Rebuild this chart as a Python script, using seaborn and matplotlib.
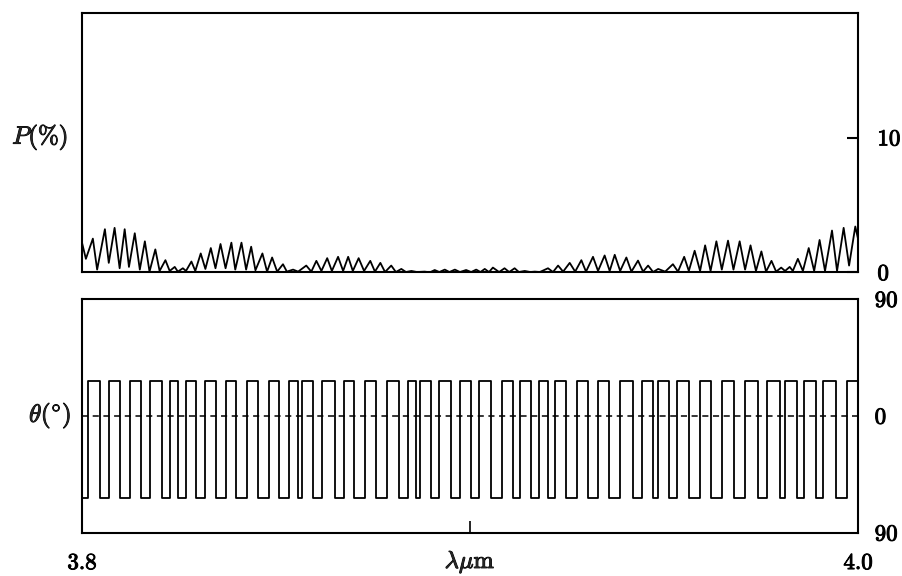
import numpy as np
import pandas as pd
import matplotlib
matplotlib.use("Agg")
import matplotlib.pyplot as plt
import matplotlib.patheffects as pe
import seaborn as sns

# ---------------- data ----------------
# Degree of polarisation P(%) : vertices (peaks and troughs) of the trace
lam_P = [3.8000, 3.8010, 3.8028, 3.8039, 3.8059, 3.8069, 3.8084, 3.8097, 3.8110, 3.8121,
         3.8136, 3.8149, 3.8162, 3.8174, 3.8189, 3.8200, 3.8215, 3.8226, 3.8239, 3.8247,
         3.8260, 3.8268, 3.8282, 3.8292, 3.8306, 3.8318, 3.8332, 3.8344, 3.8357, 3.8370,
         3.8385, 3.8395, 3.8411, 3.8423, 3.8436, 3.8447, 3.8465, 3.8477, 3.8490, 3.8503,
         3.8518, 3.8528, 3.8544, 3.8557, 3.8578, 3.8591, 3.8604, 3.8617, 3.8632, 3.8644,
         3.8660, 3.8673, 3.8686, 3.8698, 3.8713, 3.8727, 3.8743, 3.8755, 3.8769, 3.8781,
         3.8797, 3.8809, 3.8823, 3.8835, 3.8849, 3.8863, 3.8883, 3.8897, 3.8909, 3.8921,
         3.8935, 3.8947, 3.8961, 3.8974, 3.8990, 3.9003, 3.9016, 3.9027, 3.9038, 3.9049,
         3.9059, 3.9075, 3.9089, 3.9101, 3.9115, 3.9126, 3.9141, 3.9155, 3.9167, 3.9180,
         3.9201, 3.9214, 3.9227, 3.9240, 3.9257, 3.9271, 3.9287, 3.9299, 3.9317, 3.9330,
         3.9347, 3.9360, 3.9373, 3.9387, 3.9403, 3.9416, 3.9433, 3.9446, 3.9459, 3.9472,
         3.9485, 3.9503, 3.9523, 3.9536, 3.9552, 3.9564, 3.9579, 3.9593, 3.9606, 3.9620,
         3.9635, 3.9649, 3.9665, 3.9679, 3.9695, 3.9709, 3.9723, 3.9737, 3.9751, 3.9763,
         3.9777, 3.9789, 3.9802, 3.9812, 3.9824, 3.9832, 3.9845, 3.9858, 3.9873, 3.9887,
         3.9901, 3.9915, 3.9933, 3.9946, 3.9963, 3.9977, 3.9993, 4.0000]
P_pct = [2.2, 1.0, 2.5, 0.2, 3.2, 0.7, 3.3, 0.3, 3.2, 0.4,
         2.9, 0.2, 2.3, 0.05, 1.7, 0.1, 0.9, 0.1, 0.4, 0.05,
         0.3, 0.1, 0.8, 0.1, 1.4, 0.25, 1.8, 0.3, 2.1, 0.3,
         2.2, 0.2, 2.2, 0.2, 1.9, 0.15, 1.4, 0.05, 1.1, 0.05,
         0.6, 0.05, 0.2, 0.05, 0.5, 0.05, 0.85, 0.1, 1.05, 0.1,
         1.15, 0.1, 1.15, 0.1, 1.05, 0.1, 0.85, 0.05, 0.7, 0.02,
         0.5, 0.02, 0.25, 0.02, 0.1, 0.02, 0.05, 0.0, 0.17, 0.02,
         0.2, 0.02, 0.2, 0.02, 0.17, 0.02, 0.2, 0.02, 0.25, 0.02,
         0.35, 0.02, 0.3, 0.02, 0.3, 0.02, 0.1, 0.02, 0.05, 0.02,
         0.3, 0.02, 0.5, 0.05, 0.7, 0.05, 0.9, 0.05, 1.15, 0.1,
         1.25, 0.1, 1.3, 0.1, 1.1, 0.05, 0.87, 0.05, 0.5, 0.02,
         0.25, 0.05, 0.6, 0.05, 1.15, 0.1, 1.6, 0.1, 2.0, 0.1,
         2.3, 0.2, 2.35, 0.2, 2.3, 0.2, 2.0, 0.1, 1.55, 0.05,
         0.85, 0.05, 0.35, 0.1, 0.4, 0.1, 1.0, 0.1, 1.8, 0.1,
         2.4, 0.1, 3.1, 0.1, 3.3, 0.5, 3.4, 2.5]

# Polarisation angle theta(deg): square wave switching between two levels
theta_high = 27.0
theta_low = -63.0
theta_rise = [3.8015, 3.8070, 3.8124, 3.8175, 3.8228, 3.8267, 3.8318, 3.8370, 3.8425, 3.8481,
              3.8534, 3.8567, 3.8619, 3.8675, 3.8729, 3.8786, 3.8839, 3.8871, 3.8919, 3.8973,
              3.9022, 3.9082, 3.9129, 3.9177, 3.9219, 3.9276, 3.9329, 3.9387, 3.9443, 3.9485,
              3.9534, 3.9593, 3.9649, 3.9709, 3.9765, 3.9812, 3.9860, 3.9911, 3.9972]
theta_fall = [3.8046, 3.8098, 3.8152, 3.8206, 3.8247, 3.8294, 3.8345, 3.8397, 3.8454, 3.8509,
              3.8557, 3.8595, 3.8651, 3.8702, 3.8759, 3.8816, 3.8861, 3.8899, 3.8951, 3.9003,
              3.9054, 3.9110, 3.9157, 3.9200, 3.9247, 3.9303, 3.9358, 3.9419, 3.9472, 3.9513,
              3.9564, 3.9621, 3.9680, 3.9741, 3.9798, 3.9844, 3.9892, 3.9943]

lam_min, lam_max = 3.8, 4.0
P_ticks = [0, 10]
P_ticklabels = ["0", "10"]
theta_ticks = [-90, 0, 90]
theta_ticklabels = ["90", "0", "90"]

# ---------------- build tables ----------------
dfP = pd.DataFrame({"lam": lam_P, "P": P_pct})

th_lam = [lam_min]
th_val = [theta_low]
for i, r in enumerate(theta_rise):
    th_lam.append(r)
    th_val.append(theta_high)
    if i < len(theta_fall):
        th_lam.append(theta_fall[i])
        th_val.append(theta_low)
th_lam.append(lam_max)
th_val.append(th_val[-1])
dfT = pd.DataFrame({"lam": th_lam, "theta": th_val})

# ---------------- style ----------------
sns.set_theme(style="white")
plt.rcParams["font.family"] = ["cmr10", "DejaVu Serif"]
plt.rcParams["mathtext.fontset"] = "cm"
plt.rcParams["axes.formatter.use_mathtext"] = True
plt.rcParams["axes.unicode_minus"] = False

W, H = 903, 576
fig = plt.figure(figsize=(W / 100, H / 100), dpi=100)
left = 82 / W
width = (858 - 82) / W
ax1 = fig.add_axes([left, 1 - 272.3 / H, width, (272.3 - 13) / H])
ax2 = fig.add_axes([left, 1 - 532.7 / H, width, (532.7 - 299) / H])

FS = 16.5
bold = [pe.withStroke(linewidth=0.7, foreground="black")]

# ---- top panel ----
sns.lineplot(data=dfP, x="lam", y="P", ax=ax1, color="black", lw=1.3,
             estimator=None, sort=False)
ax1.set_xlim(lam_min, lam_max)
ax1.set_ylim(0, 19.25)
ax1.yaxis.tick_right()
ax1.set_yticks(P_ticks)
ax1.set_yticklabels(P_ticklabels)
ax1.tick_params(axis="y", direction="in", length=8, width=1.5, pad=14,
                labelsize=FS, colors="black", right=True, left=False)
ax1.set_xticks([])
ax1.set_xlabel("")
ax1.set_ylabel("")
ax1.text(-0.054, 10, r"$P(\%)$", transform=ax1.get_yaxis_transform(),
         ha="center", va="center", fontsize=FS + 1.5, path_effects=bold)

# ---- bottom panel ----
ax2.axhline(0, color="black", lw=1.1, ls=(0, (4, 3)))
sns.lineplot(data=dfT, x="lam", y="theta", ax=ax2, color="black", lw=1.3,
             estimator=None, sort=False, drawstyle="steps-post")
ax2.set_xlim(lam_min, lam_max)
ax2.set_ylim(-90, 90)
ax2.yaxis.tick_right()
ax2.set_yticks(theta_ticks)
ax2.set_yticklabels(theta_ticklabels)
ax2.tick_params(axis="y", direction="in", length=0, pad=12,
                labelsize=FS, colors="black", right=True, left=False)
ax2.set_xticks([lam_min, (lam_min + lam_max) / 2, lam_max])
ax2.set_xticklabels(["3.8", "", "4.0"])
ax2.tick_params(axis="x", direction="in", length=9, width=1.2, pad=15,
                labelsize=FS, colors="black", bottom=True)
ax2.set_xlabel("")
ax2.set_ylabel("")
ax2.text((lam_min + lam_max) / 2, -0.07, r"$\lambda\mu\mathrm{m}$",
         transform=ax2.get_xaxis_transform(), ha="center", va="top",
         fontsize=FS + 1, path_effects=bold)
ax2.text(-0.041, 0, r"$\theta$($^{\circ}$)", transform=ax2.get_yaxis_transform(),
         ha="center", va="center", fontsize=FS + 1.5, path_effects=bold)

for lbl in ax1.get_yticklabels() + ax2.get_yticklabels() + ax2.get_xticklabels():
    lbl.set_path_effects(bold)

for ax in (ax1, ax2):
    for s in ax.spines.values():
        s.set_visible(True)
        s.set_color("black")
        s.set_linewidth(1.5)

fig.savefig("out.png", dpi=100, facecolor="white")
